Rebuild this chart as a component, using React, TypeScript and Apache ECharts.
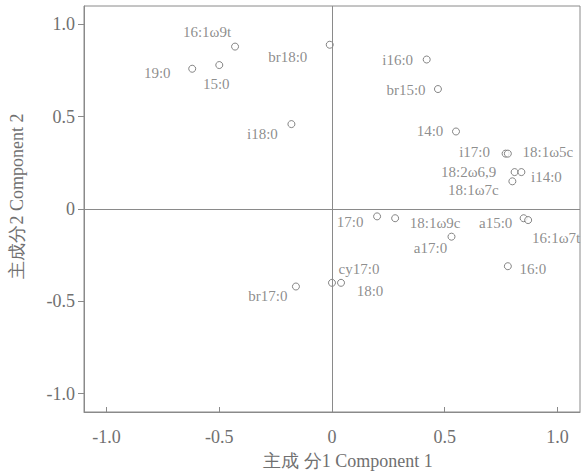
import React, { useEffect, useRef } from "react";
import * as echarts from "echarts";

const names = ["16:1ω9t", "19:0", "15:0", "br18:0", "i18:0", "i16:0", "br15:0", "14:0", "i17:0", "18:1ω5c", "18:2ω6,9", "i14:0", "18:1ω7c", "17:0", "18:1ω9c", "a15:0", "16:1ω7t", "a17:0", "16:0", "cy17:0", "18:0", "br17:0"];
const pc1 = [-0.43, -0.62, -0.50, -0.01, -0.18, 0.42, 0.47, 0.55, 0.77, 0.78, 0.81, 0.84, 0.80, 0.20, 0.28, 0.85, 0.87, 0.53, 0.78, 0.0, 0.04, -0.16];
const pc2 = [0.88, 0.76, 0.78, 0.89, 0.46, 0.81, 0.65, 0.42, 0.30, 0.30, 0.20, 0.20, 0.15, -0.04, -0.05, -0.05, -0.06, -0.15, -0.31, -0.40, -0.40, -0.42];
const tickValues = [-1, -0.5, 0, 0.5, 1];

// label placement (pixel offsets from the point)
const labelOffsets: [number, number][] = [
  [-28, -15], [-35, 4], [-3, 19], [-42, 12], [-29, 10], [-29, 0], [-32, 1], [-26, 0],
  [-31, -2], [40, -2], [-46, 0], [25, 5], [-39, 9], [-27, 6], [40, 5], [-28, 5],
  [28, 18], [-21, 11], [25, 3], [27, -14], [29, 8], [-28, 9],
];

const FONT = "Liberation Serif";
const GREY = "#707070";
const LINE = "#8a8a8a";

export default function App() {
  const ref = useRef<HTMLDivElement>(null);
  useEffect(() => {
    if (!ref.current) return;
    const chart = echarts.init(ref.current, undefined, { renderer: "svg" });
    const data = names.map((n, i) => ({
      name: n,
      value: [pc1[i], pc2[i]],
      label: { offset: labelOffsets[i] },
    }));
    const fmt = (v: number) => (v === 0 ? "0" : v.toFixed(1));
    chart.setOption({
      animation: false,
      backgroundColor: "#fff",
      grid: { left: 81, top: 6, right: 1, bottom: 63, show: true, borderColor: LINE, borderWidth: 1 },
      xAxis: {
        type: "value",
        min: -1.1,
        max: 1.1,
        name: "主成 分1 Component 1",
        nameLocation: "middle",
        nameGap: 40,
        nameTextStyle: { fontFamily: FONT, fontSize: 18, color: GREY, padding: [0, 0, 0, 32] },
        axisLine: { show: true, onZero: false, lineStyle: { color: LINE } },
        axisTick: { show: true, inside: true, length: 5, customValues: tickValues, lineStyle: { color: LINE } },
        axisLabel: { customValues: tickValues, formatter: fmt, fontFamily: FONT, fontSize: 18, color: GREY, margin: 16 },
        splitLine: { show: false },
      },
      yAxis: {
        type: "value",
        min: -1.1,
        max: 1.1,
        name: "主成分2 Component 2",
        nameLocation: "middle",
        nameGap: 58,
        nameTextStyle: { fontFamily: FONT, fontSize: 18, color: GREY, padding: [0, 0, 0, 26] },
        axisLine: { show: true, onZero: false, lineStyle: { color: LINE } },
        axisTick: { show: true, inside: false, length: 6, customValues: tickValues, lineStyle: { color: LINE } },
        axisLabel: { customValues: tickValues, formatter: fmt, fontFamily: FONT, fontSize: 18, color: GREY, margin: 9 },
        splitLine: { show: false },
      },
      series: [
        {
          type: "scatter",
          symbol: "circle",
          symbolSize: 7,
          itemStyle: { color: "#fff", borderColor: "#666", borderWidth: 1 },
          label: {
            show: true,
            position: "inside",
            formatter: "{b}",
            fontFamily: FONT,
            fontSize: 15,
            color: GREY,
            align: "center",
            verticalAlign: "middle",
          },
          data,
          markLine: {
            silent: true,
            symbol: "none",
            label: { show: false },
            lineStyle: { color: LINE, type: "solid", width: 1 },
            data: [{ xAxis: 0 }, { yAxis: 0 }],
          },
        },
      ],
    });
    return () => chart.dispose();
  }, []);
  return <div ref={ref} style={{ position: "fixed", left: 0, top: 0, width: 581, height: 475 }} />;
}
